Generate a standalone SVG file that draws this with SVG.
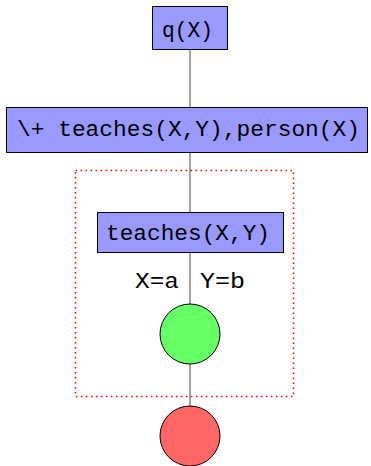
<svg xmlns="http://www.w3.org/2000/svg" width="371" height="466" viewBox="0 0 371 466">
<style>
.box{fill:#9999ff;stroke:#000;stroke-width:1}
.t{font-family:"Liberation Mono",monospace;font-size:22.5px;fill:#000}
.edge{stroke:#444;stroke-width:1;fill:none}
</style>
<rect width="371" height="466" fill="#fff"/>
<g id="connectors">
<line class="edge" x1="190" y1="50" x2="190" y2="107"/>
<line class="edge" x1="190" y1="153" x2="190" y2="212"/>
<line class="edge" x1="190" y1="253" x2="190" y2="304"/>
<line class="edge" x1="190" y1="364" x2="190" y2="406"/>
<text class="t" x="135" y="288" textLength="44" lengthAdjust="spacingAndGlyphs">X=a</text>
<text class="t" x="200" y="288" textLength="45" lengthAdjust="spacingAndGlyphs">Y=b</text>
</g>
<rect id="scope" x="75.5" y="170.5" width="218" height="226" fill="none" stroke="#ff0000" stroke-width="1.6" stroke-dasharray="1.6,3.4"/>
<g id="n1"><rect class="box" x="152.5" y="6.5" width="75" height="43"/><text class="t" x="162" y="37" textLength="51" lengthAdjust="spacingAndGlyphs">q(X)</text></g>
<g id="n2"><rect class="box" x="6.5" y="107.5" width="361" height="45"/><text class="t" x="17" y="136" textLength="343" lengthAdjust="spacingAndGlyphs">\+ teaches(X,Y),person(X)</text></g>
<g id="n3"><rect class="box" x="97.5" y="212.5" width="186" height="40"/><text class="t" x="106" y="240" textLength="164" lengthAdjust="spacingAndGlyphs">teaches(X,Y)</text></g>
<g id="n4"><circle cx="190" cy="334" r="30" fill="#66ff66" stroke="#000"/></g>
<g id="n5"><circle cx="190" cy="436" r="30" fill="#ff6666" stroke="#000"/></g>
</svg>
